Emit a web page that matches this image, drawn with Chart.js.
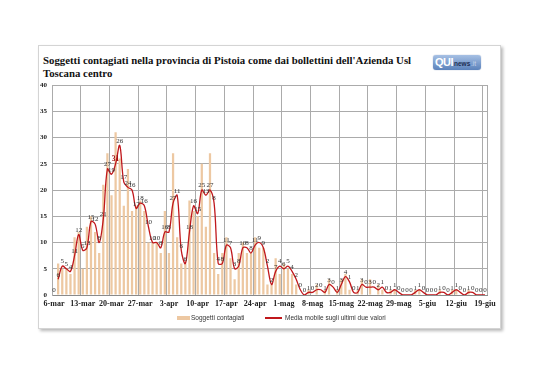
<!DOCTYPE html>
<html>
<head>
<meta charset="utf-8">
<script src="https://cdn.jsdelivr.net/npm/chart.js@4/dist/chart.umd.min.js"></script>
<style>
  html,body{margin:0;padding:0;background:#fff;}
  body{width:538px;height:380px;position:relative;overflow:hidden;}
  #card{position:absolute;left:38px;top:45px;width:461px;height:282px;border:1px solid #d4d4d4;box-shadow:2px 2px 3px #b8b8b8;background:#fff;}
  #title{position:absolute;left:43px;top:54px;font:bold 10.8px "Liberation Serif";line-height:12.5px;color:#111;white-space:nowrap;}
  #logo{position:absolute;left:433px;top:55px;width:48px;height:15px;border-radius:3px;background:linear-gradient(#a6c0e4,#5b82bb);box-shadow:0 0 1px #6d86ad;font-family:"Liberation Sans";white-space:nowrap;overflow:hidden;}
  #logo .q{position:absolute;left:2px;top:1px;font:bold 11px "Liberation Sans";color:#fff;letter-spacing:-0.5px;}
  #logo .n{position:absolute;left:21px;top:4.5px;font:bold 6.5px "Liberation Sans";color:#1d2f52;}
  #logo .i{position:absolute;left:38px;top:4.5px;font:6.5px "Liberation Sans";color:#c9d6ea;}
  canvas{position:absolute;left:0;top:0;}
  .lg{position:absolute;font:6.5px "Liberation Sans";color:#333;white-space:nowrap;}
</style>
</head>
<body>
<div id="card"></div>
<div id="title">Soggetti contagiati nella provincia di Pistoia come dai bollettini dell'Azienda Usl<br>Toscana centro</div>
<div id="logo"><span class="q">QUI</span><span class="n">news</span><span class="i">.it</span></div>
<canvas id="c" width="538" height="380"></canvas>
<div style="position:absolute;left:177px;top:316px;width:13px;height:4px;background:#EDC8A2"></div>
<span class="lg" style="left:191px;top:314px">Soggetti contagiati</span>
<div style="position:absolute;left:265px;top:317px;width:17px;height:1.5px;background:#c0181c"></div>
<span class="lg" style="left:285px;top:314px">Media mobile sugli ultimi due valori</span>
<script>
const categories = [
"6-mar","7-mar","8-mar","9-mar","10-mar","11-mar","12-mar","13-mar","14-mar","15-mar","16-mar","17-mar","18-mar","19-mar","20-mar","21-mar","22-mar","23-mar","24-mar","25-mar","26-mar","27-mar","28-mar","29-mar","30-mar","31-mar",
"1-apr","2-apr","3-apr","4-apr","5-apr","6-apr","7-apr","8-apr","9-apr","10-apr","11-apr","12-apr","13-apr","14-apr","15-apr","16-apr","17-apr","18-apr","19-apr","20-apr","21-apr","22-apr","23-apr","24-apr","25-apr","26-apr","27-apr","28-apr","29-apr","30-apr",
"1-mag","2-mag","3-mag","4-mag","5-mag","6-mag","7-mag","8-mag","9-mag","10-mag","11-mag","12-mag","13-mag","14-mag","15-mag","16-mag","17-mag","18-mag","19-mag","20-mag","21-mag","22-mag","23-mag","24-mag","25-mag","26-mag","27-mag","28-mag","29-mag","30-mag","31-mag",
"1-giu","2-giu","3-giu","4-giu","5-giu","6-giu","7-giu","8-giu","9-giu","10-giu","11-giu","12-giu","13-giu","14-giu","15-giu","16-giu","17-giu","18-giu","19-giu"];

const tickLabels = ["6-mar","13-mar","20-mar","27-mar","3-apr","10-apr","17-apr","24-apr","1-mag","8-mag","15-mag","22-mag","29-mag","5-giu","12-giu","19-giu"];

const cases = [
0,6,5,5,4,11,12,5,13,15,12,8,21,27,19,31,26,17,24,16,17,18,16,10,10,10,
8,16,8,27,11,6,6,18,16,15,25,13,27,8,4,8,11,7,3,8,10,8,8,11,9,9,2,2,7,4,
6,5,4,2,0,0,1,0,2,0,1,3,0,1,3,4,1,0,1,3,0,3,0,2,1,0,1,1,0,0,0,
0,1,1,0,0,0,0,1,0,0,1,1,0,0,1,0,0,0,0];

const movingAvg = [
null,3,5.5,5,4.5,7.5,11.5,8.5,9,14,13.5,10,14.5,24,23,25,28.5,21.5,20.5,20,16.5,17.5,17,13,10,10,
9,12,12,17.5,19,8.5,6,12,17,15.5,20,19,20,17.5,6,6,9.5,9,5,5.5,9,9,8,9.5,10,9,5.5,2,4.5,5.5,
5,5.5,4.5,3,1,0,0.5,0.5,1,1,0.5,2,1.5,0.5,2,3.5,2.5,0.5,0.5,2,1.5,1.5,1.5,1,1.5,0.5,0.5,1,0.5,0,0,
0,0.5,1,0.5,0,0,0,0.5,0.5,0,0.5,1,0.5,0,0.5,0.5,0,0,0];

const seriesNames = ["Soggetti contagiati","Media mobile sugli ultimi due valori"];

const GRID = '#ababab';
const maxVal = Math.max(...cases);

const barLabels = {
  id: 'barLabels',
  afterDatasetsDraw(chart) {
    const meta = chart.getDatasetMeta(0);
    const ctx = chart.ctx;
    ctx.save();
    ctx.textAlign = 'center';
    ctx.textBaseline = 'bottom';
    meta.data.forEach((el, i) => {
      const v = cases[i];
      const isMax = v === maxVal;
      ctx.font = (isMax ? 'bold 7.5px ' : '7px ') + '"Liberation Serif"';
      ctx.fillStyle = isMax ? '#a31515' : '#333';
      ctx.fillText(String(v), el.x, el.y - 1);
    });
    ctx.restore();
  }
};

const frame = {
  id: 'frame',
  beforeDatasetsDraw(chart) {
    const a = chart.chartArea, ctx = chart.ctx;
    ctx.save();
    ctx.strokeStyle = GRID;
    ctx.lineWidth = 1;
    ctx.beginPath();
    ctx.moveTo(Math.round(a.right) + 0.5, a.top);
    ctx.lineTo(Math.round(a.right) + 0.5, a.bottom);
    ctx.stroke();
    ctx.restore();
  }
};

new Chart(document.getElementById('c'), {
  data: {
    labels: categories,
    datasets: [
      {
        type: 'line',
        label: seriesNames[1],
        data: movingAvg,
        borderColor: '#c0181c',
        borderWidth: 1.3,
        pointRadius: 0,
        tension: 0.35,
        fill: false,
        order: 0
      },
      {
        type: 'bar',
        label: seriesNames[0],
        data: cases,
        backgroundColor: '#EDC8A2',
        barPercentage: 0.55,
        categoryPercentage: 1,
        order: 1
      }
    ]
  },
  options: {
    responsive: false,
    animation: false,
    devicePixelRatio: 1,
    layout: { padding: { left: 22, right: 51, top: 85, bottom: 62 } },
    plugins: { legend: { display: false }, tooltip: { enabled: false } },
    scales: {
      x: {
        offset: true,
        grid: {
          offset: true,
          drawTicks: false,
          color: (c) => (c.index === 0 || tickLabels.includes(categories[c.index])) ? GRID : 'rgba(0,0,0,0)',
          lineWidth: 1
        },
        border: { color: '#8a8a8a' },
        ticks: {
          autoSkip: false,
          maxRotation: 0,
          minRotation: 0,
          padding: 4,
          color: '#222',
          font: { family: 'Liberation Serif', size: 8, weight: 'bold' },
          callback: (v, i) => tickLabels.includes(categories[i]) ? categories[i] : ''
        },
        afterFit: (s) => { s.height = 23; }
      },
      y: {
        min: 0,
        max: 40,
        ticks: {
          stepSize: 5,
          padding: 5,
          color: '#222',
          font: { family: 'Liberation Serif', size: 7, weight: 'bold' }
        },
        grid: { color: GRID, drawTicks: false },
        border: { color: GRID },
        afterFit: (s) => { s.width = 30; }
      }
    }
  },
  plugins: [frame, barLabels]
});
</script>
</body>
</html>
